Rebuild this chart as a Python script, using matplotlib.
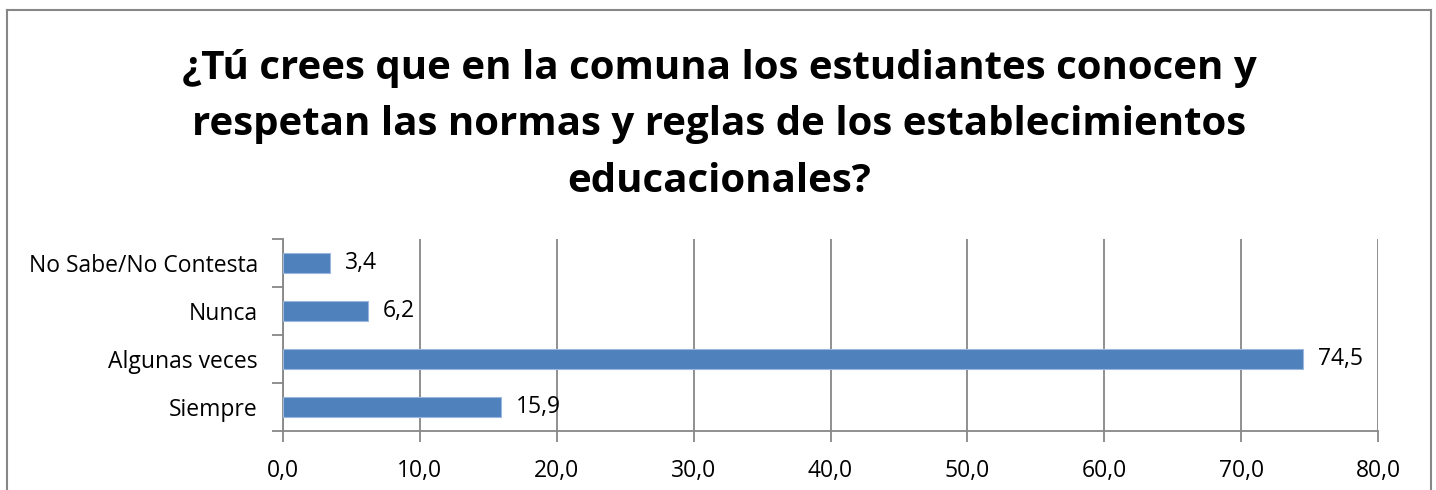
import matplotlib.pyplot as plt
from matplotlib.lines import Line2D

CATEGORIES = ["Siempre", "Algunas veces", "Nunca", "No Sabe/No Contesta"]
VALUES = [15.9, 74.5, 6.2, 3.4]
XTICKS = [0, 10, 20, 30, 40, 50, 60, 70, 80]
TITLE = ("¿Tú crees que en la comuna los estudiantes conocen y\n"
         "respetan las normas y reglas de los establecimientos\n"
         "educacionales?")

W, H = 1436, 490
plt.rcParams["font.family"] = ["Open Sans", "DejaVu Sans"]

fig = plt.figure(figsize=(W / 100, H / 100), dpi=100)
fig.patch.set_facecolor("white")

# outer chart border (bottom edge runs off the picture)
border = dict(color="#878787", linewidth=1.5, transform=fig.transFigure)
fig.add_artist(Line2D([7 / W, 7 / W], [0, 1 - 10 / H], **border))
fig.add_artist(Line2D([7 / W, 1431 / W], [1 - 10 / H, 1 - 10 / H], **border))
fig.add_artist(Line2D([1431 / W, 1431 / W], [0, 1 - 10 / H], **border))

ax = fig.add_axes([283 / W, 1 - 431 / H, (1378 - 283) / W, (431 - 239) / H])

ypos = range(len(CATEGORIES))
ax.barh(ypos, VALUES, height=0.4, color="#4F81BD", edgecolor="#9BB7DD",
        linewidth=0.8, zorder=3)
ax.set_ylim(-0.5, len(CATEGORIES) - 0.5)
ax.set_xlim(0, 80)

for y, v in zip(ypos, VALUES):
    ax.annotate(f"{v:.1f}".replace(".", ","), (v, y), xytext=(11, 0),
                textcoords="offset points", va="center", ha="left",
                fontsize=16.5, color="black")

ax.set_xticks(XTICKS)
ax.set_xticklabels([f"{t:.1f}".replace(".", ",") for t in XTICKS], fontsize=16.5)
ax.set_yticks(list(ypos))
ax.set_yticklabels(CATEGORIES, fontsize=16.5)
ax.set_yticks([i - 0.5 for i in range(len(CATEGORIES) + 1)], minor=True)

ax.xaxis.grid(True, color="#878787", linewidth=1.3, zorder=0)
ax.tick_params(axis="y", which="major", length=0, pad=18)
ax.tick_params(axis="y", which="minor", length=8, color="#878787", width=1.3)
ax.tick_params(axis="x", length=8, color="#878787", width=1.3, pad=12)

for side in ["top", "right"]:
    ax.spines[side].set_visible(False)
for side in ["left", "bottom"]:
    ax.spines[side].set_color("#878787")
    ax.spines[side].set_linewidth(1.3)

fig.text(719 / W, 1 - 125 / H, TITLE, ha="center", va="center",
         fontsize=29, fontweight="bold", linespacing=1.6)

fig.savefig("out.png", dpi=100, facecolor="white")
